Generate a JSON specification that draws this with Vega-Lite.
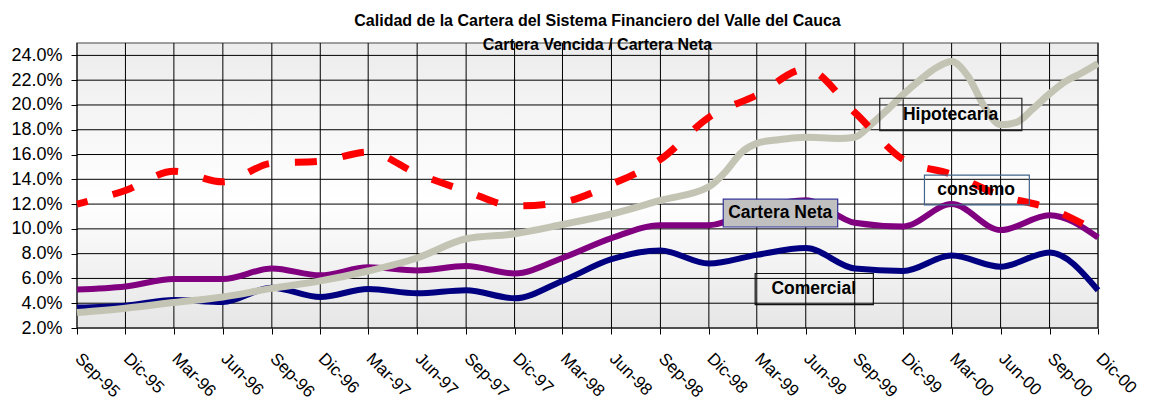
{
  "$schema": "https://vega.github.io/schema/vega-lite/v6.json",
  "width": 1021,
  "height": 285,
  "autosize": {"type": "none"},
  "padding": {"left": 77, "top": 43, "right": 58, "bottom": 73},
  "background": "#ffffff",
  "config": {
    "view": {
      "stroke": "#808080",
      "strokeWidth": 1.5,
      "fill": {"gradient": "linear", "x1": 0, "y1": 0, "x2": 0, "y2": 1,
        "stops": [{"offset": 0, "color": "#ececec"}, {"offset": 0.55, "color": "#ffffff"}, {"offset": 1, "color": "#e6e6e6"}]}
    },
    "font": "Liberation Sans",
    "axis": {
      "grid": false, "domain": false, "tickColor": "#000000", "tickSize": 6, "tickWidth": 1,
      "labelColor": "#000000", "labelFont": "Liberation Sans", "labelOverlap": false
    }
  },
  "title": {
    "text": ["Calidad de la Cartera del Sistema Financiero del Valle del Cauca", "Cartera Vencida / Cartera Neta"],
    "font": "Liberation Sans", "fontSize": 16, "fontWeight": "bold", "color": "#000000",
    "lineHeight": 24, "offset": -10, "anchor": "middle", "frame": "group", "dx": 10
  },
  "resolve": {"axis": {"x": "independent", "y": "independent"}},
  "datasets": {
    "trimestres": [
      {"fecha": "1995-09-01"}, {"fecha": "1995-12-01"}, {"fecha": "1996-03-01"}, {"fecha": "1996-06-01"},
      {"fecha": "1996-09-01"}, {"fecha": "1996-12-01"}, {"fecha": "1997-03-01"}, {"fecha": "1997-06-01"},
      {"fecha": "1997-09-01"}, {"fecha": "1997-12-01"}, {"fecha": "1998-03-01"}, {"fecha": "1998-06-01"},
      {"fecha": "1998-09-01"}, {"fecha": "1998-12-01"}, {"fecha": "1999-03-01"}, {"fecha": "1999-06-01"},
      {"fecha": "1999-09-01"}, {"fecha": "1999-12-01"}, {"fecha": "2000-03-01"}, {"fecha": "2000-06-01"},
      {"fecha": "2000-09-01"}, {"fecha": "2000-12-01"}
    ],
    "niveles": [
      {"valor": 2}, {"valor": 4}, {"valor": 6}, {"valor": 8}, {"valor": 10}, {"valor": 12},
      {"valor": 14}, {"valor": 16}, {"valor": 18}, {"valor": 20}, {"valor": 22}, {"valor": 24}
    ],
    "series": [
      {"fecha": "1995-09-01", "serie": "Comercial", "valor": 3.65},
      {"fecha": "1995-12-01", "serie": "Comercial", "valor": 3.8},
      {"fecha": "1996-03-01", "serie": "Comercial", "valor": 4.25},
      {"fecha": "1996-06-01", "serie": "Comercial", "valor": 4.1},
      {"fecha": "1996-09-01", "serie": "Comercial", "valor": 5.25},
      {"fecha": "1996-12-01", "serie": "Comercial", "valor": 4.5},
      {"fecha": "1997-03-01", "serie": "Comercial", "valor": 5.15},
      {"fecha": "1997-06-01", "serie": "Comercial", "valor": 4.8},
      {"fecha": "1997-09-01", "serie": "Comercial", "valor": 5.05},
      {"fecha": "1997-12-01", "serie": "Comercial", "valor": 4.4},
      {"fecha": "1998-03-01", "serie": "Comercial", "valor": 5.8},
      {"fecha": "1998-06-01", "serie": "Comercial", "valor": 7.55},
      {"fecha": "1998-09-01", "serie": "Comercial", "valor": 8.25},
      {"fecha": "1998-12-01", "serie": "Comercial", "valor": 7.2},
      {"fecha": "1999-03-01", "serie": "Comercial", "valor": 7.9},
      {"fecha": "1999-06-01", "serie": "Comercial", "valor": 8.45},
      {"fecha": "1999-09-01", "serie": "Comercial", "valor": 6.8},
      {"fecha": "1999-12-01", "serie": "Comercial", "valor": 6.6},
      {"fecha": "2000-03-01", "serie": "Comercial", "valor": 7.85},
      {"fecha": "2000-06-01", "serie": "Comercial", "valor": 6.95},
      {"fecha": "2000-09-01", "serie": "Comercial", "valor": 8.1},
      {"fecha": "2000-12-01", "serie": "Comercial", "valor": 5.05},

      {"fecha": "1995-09-01", "serie": "Cartera Neta", "valor": 5.1},
      {"fecha": "1995-12-01", "serie": "Cartera Neta", "valor": 5.35},
      {"fecha": "1996-03-01", "serie": "Cartera Neta", "valor": 5.95},
      {"fecha": "1996-06-01", "serie": "Cartera Neta", "valor": 5.95},
      {"fecha": "1996-09-01", "serie": "Cartera Neta", "valor": 6.8},
      {"fecha": "1996-12-01", "serie": "Cartera Neta", "valor": 6.25},
      {"fecha": "1997-03-01", "serie": "Cartera Neta", "valor": 6.9},
      {"fecha": "1997-06-01", "serie": "Cartera Neta", "valor": 6.65},
      {"fecha": "1997-09-01", "serie": "Cartera Neta", "valor": 7.0},
      {"fecha": "1997-12-01", "serie": "Cartera Neta", "valor": 6.4},
      {"fecha": "1998-03-01", "serie": "Cartera Neta", "valor": 7.65},
      {"fecha": "1998-06-01", "serie": "Cartera Neta", "valor": 9.25},
      {"fecha": "1998-09-01", "serie": "Cartera Neta", "valor": 10.3},
      {"fecha": "1998-12-01", "serie": "Cartera Neta", "valor": 10.3},
      {"fecha": "1999-03-01", "serie": "Cartera Neta", "valor": 11.6},
      {"fecha": "1999-06-01", "serie": "Cartera Neta", "valor": 12.3},
      {"fecha": "1999-09-01", "serie": "Cartera Neta", "valor": 10.5},
      {"fecha": "1999-12-01", "serie": "Cartera Neta", "valor": 10.2},
      {"fecha": "2000-03-01", "serie": "Cartera Neta", "valor": 12.0},
      {"fecha": "2000-06-01", "serie": "Cartera Neta", "valor": 9.9},
      {"fecha": "2000-09-01", "serie": "Cartera Neta", "valor": 11.1},
      {"fecha": "2000-12-01", "serie": "Cartera Neta", "valor": 9.3},

      {"fecha": "1995-09-01", "serie": "Hipotecaria", "valor": 3.25},
      {"fecha": "1995-12-01", "serie": "Hipotecaria", "valor": 3.6},
      {"fecha": "1996-03-01", "serie": "Hipotecaria", "valor": 4.05},
      {"fecha": "1996-06-01", "serie": "Hipotecaria", "valor": 4.5},
      {"fecha": "1996-09-01", "serie": "Hipotecaria", "valor": 5.2},
      {"fecha": "1996-12-01", "serie": "Hipotecaria", "valor": 5.8},
      {"fecha": "1997-03-01", "serie": "Hipotecaria", "valor": 6.6},
      {"fecha": "1997-06-01", "serie": "Hipotecaria", "valor": 7.65},
      {"fecha": "1997-09-01", "serie": "Hipotecaria", "valor": 9.2},
      {"fecha": "1997-12-01", "serie": "Hipotecaria", "valor": 9.6},
      {"fecha": "1998-03-01", "serie": "Hipotecaria", "valor": 10.35},
      {"fecha": "1998-06-01", "serie": "Hipotecaria", "valor": 11.2},
      {"fecha": "1998-09-01", "serie": "Hipotecaria", "valor": 12.3},
      {"fecha": "1998-12-01", "serie": "Hipotecaria", "valor": 13.4},
      {"fecha": "1999-01-01", "serie": "Hipotecaria", "valor": 14.6},
      {"fecha": "1999-02-01", "serie": "Hipotecaria", "valor": 16.2},
      {"fecha": "1999-03-01", "serie": "Hipotecaria", "valor": 16.9},
      {"fecha": "1999-04-01", "serie": "Hipotecaria", "valor": 17.15},
      {"fecha": "1999-05-01", "serie": "Hipotecaria", "valor": 17.3},
      {"fecha": "1999-06-01", "serie": "Hipotecaria", "valor": 17.4},
      {"fecha": "1999-07-01", "serie": "Hipotecaria", "valor": 17.35},
      {"fecha": "1999-08-01", "serie": "Hipotecaria", "valor": 17.3},
      {"fecha": "1999-09-01", "serie": "Hipotecaria", "valor": 17.4},
      {"fecha": "1999-10-01", "serie": "Hipotecaria", "valor": 18.4},
      {"fecha": "1999-11-01", "serie": "Hipotecaria", "valor": 19.6},
      {"fecha": "1999-12-01", "serie": "Hipotecaria", "valor": 20.85},
      {"fecha": "2000-01-01", "serie": "Hipotecaria", "valor": 22.0},
      {"fecha": "2000-02-01", "serie": "Hipotecaria", "valor": 23.0},
      {"fecha": "2000-03-01", "serie": "Hipotecaria", "valor": 23.5},
      {"fecha": "2000-04-01", "serie": "Hipotecaria", "valor": 22.3},
      {"fecha": "2000-05-01", "serie": "Hipotecaria", "valor": 19.9},
      {"fecha": "2000-06-01", "serie": "Hipotecaria", "valor": 18.4},
      {"fecha": "2000-07-01", "serie": "Hipotecaria", "valor": 18.6},
      {"fecha": "2000-08-01", "serie": "Hipotecaria", "valor": 19.7},
      {"fecha": "2000-09-01", "serie": "Hipotecaria", "valor": 20.9},
      {"fecha": "2000-10-01", "serie": "Hipotecaria", "valor": 21.9},
      {"fecha": "2000-11-01", "serie": "Hipotecaria", "valor": 22.6},
      {"fecha": "2000-12-01", "serie": "Hipotecaria", "valor": 23.35},

      {"fecha": "1995-09-01", "serie": "consumo", "valor": 12.0},
      {"fecha": "1995-12-01", "serie": "consumo", "valor": 13.1},
      {"fecha": "1996-03-01", "serie": "consumo", "valor": 14.65},
      {"fecha": "1996-06-01", "serie": "consumo", "valor": 13.8},
      {"fecha": "1996-09-01", "serie": "consumo", "valor": 15.3},
      {"fecha": "1996-12-01", "serie": "consumo", "valor": 15.45},
      {"fecha": "1997-03-01", "serie": "consumo", "valor": 16.2},
      {"fecha": "1997-06-01", "serie": "consumo", "valor": 14.45},
      {"fecha": "1997-09-01", "serie": "consumo", "valor": 13.05},
      {"fecha": "1997-12-01", "serie": "consumo", "valor": 11.85},
      {"fecha": "1998-03-01", "serie": "consumo", "valor": 12.15},
      {"fecha": "1998-06-01", "serie": "consumo", "valor": 13.6},
      {"fecha": "1998-09-01", "serie": "consumo", "valor": 15.6},
      {"fecha": "1998-12-01", "serie": "consumo", "valor": 19.0},
      {"fecha": "1999-03-01", "serie": "consumo", "valor": 20.8},
      {"fecha": "1999-06-01", "serie": "consumo", "valor": 22.9},
      {"fecha": "1999-09-01", "serie": "consumo", "valor": 19.4},
      {"fecha": "1999-12-01", "serie": "consumo", "valor": 15.6},
      {"fecha": "2000-03-01", "serie": "consumo", "valor": 14.4},
      {"fecha": "2000-06-01", "serie": "consumo", "valor": 12.7},
      {"fecha": "2000-09-01", "serie": "consumo", "valor": 11.65},
      {"fecha": "2000-12-01", "serie": "consumo", "valor": 9.75}
    ],
    "notas": [
      {"etiqueta": "Hipotecaria", "desde": "1999-10-18", "hasta": "2000-07-11", "bajo": 17.93, "alto": 20.54, "fechaTexto": "2000-02-28", "valorTexto": 19.22},
      {"etiqueta": "consumo", "desde": "2000-01-10", "hasta": "2000-07-25", "bajo": 11.94, "alto": 14.34, "fechaTexto": "2000-04-16", "valorTexto": 13.15},
      {"etiqueta": "Cartera Neta", "desde": "1998-12-28", "hasta": "1999-07-31", "bajo": 10.15, "alto": 12.4, "fechaTexto": "1999-04-14", "valorTexto": 11.29},
      {"etiqueta": "Comercial", "desde": "1999-02-26", "hasta": "1999-10-06", "bajo": 3.89, "alto": 6.4, "fechaTexto": "1999-06-16", "valorTexto": 5.15}
    ]
  },
  "layer": [
    {
      "data": {"name": "trimestres"},
      "mark": {"type": "rule", "color": "#000000", "strokeWidth": 1},
      "encoding": {
        "x": {"field": "fecha", "type": "temporal", "axis": null, "scale": {"type": "utc", "domain": [{"year": 1995, "month": 9, "date": 1, "utc": true}, {"year": 2000, "month": 12, "date": 1, "utc": true}]}},
        "y": {"datum": 2, "type": "quantitative", "axis": null, "scale": {"domain": [2, 25], "nice": false, "zero": false}},
        "y2": {"datum": 25}
      }
    },
    {
      "data": {"name": "niveles"},
      "mark": {"type": "rule", "color": "#000000", "strokeWidth": 1},
      "encoding": {
        "y": {"field": "valor", "type": "quantitative", "axis": null, "scale": {"domain": [2, 25], "nice": false, "zero": false}},
        "x": {"datum": {"year": 1995, "month": 9, "date": 1, "utc": true}, "type": "temporal", "axis": null, "scale": {"type": "utc", "domain": [{"year": 1995, "month": 9, "date": 1, "utc": true}, {"year": 2000, "month": 12, "date": 1, "utc": true}]}},
        "x2": {"datum": {"year": 2000, "month": 12, "date": 1, "utc": true}}
      }
    },
    {
      "data": {"name": "series"},
      "transform": [{"filter": "datum.serie === 'Comercial'"}],
      "mark": {"type": "line", "color": "#000080", "strokeWidth": 6, "interpolate": "monotone"},
      "encoding": {
        "x": {"field": "fecha", "type": "temporal",
          "scale": {"type": "utc", "domain": [{"year": 1995, "month": 9, "date": 1, "utc": true}, {"year": 2000, "month": 12, "date": 1, "utc": true}]},
          "axis": {
            "title": null, "grid": false,
            "values": [
              {"year": 1995, "month": 9, "date": 1, "utc": true}, {"year": 1995, "month": 12, "date": 1, "utc": true},
              {"year": 1996, "month": 3, "date": 1, "utc": true}, {"year": 1996, "month": 6, "date": 1, "utc": true},
              {"year": 1996, "month": 9, "date": 1, "utc": true}, {"year": 1996, "month": 12, "date": 1, "utc": true},
              {"year": 1997, "month": 3, "date": 1, "utc": true}, {"year": 1997, "month": 6, "date": 1, "utc": true},
              {"year": 1997, "month": 9, "date": 1, "utc": true}, {"year": 1997, "month": 12, "date": 1, "utc": true},
              {"year": 1998, "month": 3, "date": 1, "utc": true}, {"year": 1998, "month": 6, "date": 1, "utc": true},
              {"year": 1998, "month": 9, "date": 1, "utc": true}, {"year": 1998, "month": 12, "date": 1, "utc": true},
              {"year": 1999, "month": 3, "date": 1, "utc": true}, {"year": 1999, "month": 6, "date": 1, "utc": true},
              {"year": 1999, "month": 9, "date": 1, "utc": true}, {"year": 1999, "month": 12, "date": 1, "utc": true},
              {"year": 2000, "month": 3, "date": 1, "utc": true}, {"year": 2000, "month": 6, "date": 1, "utc": true},
              {"year": 2000, "month": 9, "date": 1, "utc": true}, {"year": 2000, "month": 12, "date": 1, "utc": true}
            ],
            "labelExpr": "replace(utcFormat(datum.value, '%b-%y'), 'Dec', 'Dic')",
            "labelAngle": 45, "labelAlign": "left", "labelBaseline": "top",
            "labelFontSize": 17, "labelPadding": 16, "labelOffset": 6,
            "labelOverlap": false, "labelFlush": false
          }
        },
        "y": {"field": "valor", "type": "quantitative",
          "scale": {"domain": [2, 25], "nice": false, "zero": false},
          "axis": {
            "title": null, "grid": false,
            "values": [2, 4, 6, 8, 10, 12, 14, 16, 18, 20, 22, 24],
            "labelExpr": "format(datum.value, '.1f') + '%'",
            "labelFontSize": 18, "labelPadding": 9, "labelOverlap": false
          }
        }
      }
    },
    {
      "data": {"name": "series"},
      "transform": [{"filter": "datum.serie === 'Cartera Neta'"}],
      "mark": {"type": "line", "color": "#800080", "strokeWidth": 6, "interpolate": "monotone"},
      "encoding": {
        "x": {"field": "fecha", "type": "temporal", "axis": null, "scale": {"type": "utc", "domain": [{"year": 1995, "month": 9, "date": 1, "utc": true}, {"year": 2000, "month": 12, "date": 1, "utc": true}]}},
        "y": {"field": "valor", "type": "quantitative", "axis": null, "scale": {"domain": [2, 25], "nice": false, "zero": false}}
      }
    },
    {
      "data": {"name": "series"},
      "transform": [{"filter": "datum.serie === 'Hipotecaria'"}],
      "mark": {"type": "line", "color": "#C4C4B4", "strokeWidth": 7, "interpolate": "monotone"},
      "encoding": {
        "x": {"field": "fecha", "type": "temporal", "axis": null, "scale": {"type": "utc", "domain": [{"year": 1995, "month": 9, "date": 1, "utc": true}, {"year": 2000, "month": 12, "date": 1, "utc": true}]}},
        "y": {"field": "valor", "type": "quantitative", "axis": null, "scale": {"domain": [2, 25], "nice": false, "zero": false}}
      }
    },
    {
      "data": {"name": "series"},
      "transform": [{"filter": "datum.serie === 'consumo'"}],
      "mark": {"type": "line", "color": "#FF0000", "strokeWidth": 7, "interpolate": "monotone", "strokeDash": [22, 26], "strokeDashOffset": 11, "strokeCap": "butt"},
      "encoding": {
        "x": {"field": "fecha", "type": "temporal", "axis": null, "scale": {"type": "utc", "domain": [{"year": 1995, "month": 9, "date": 1, "utc": true}, {"year": 2000, "month": 12, "date": 1, "utc": true}]}},
        "y": {"field": "valor", "type": "quantitative", "axis": null, "scale": {"domain": [2, 25], "nice": false, "zero": false}}
      }
    },
    {
      "data": {"name": "notas"},
      "mark": {"type": "rect", "strokeWidth": 1.2},
      "encoding": {
        "x": {"field": "desde", "type": "temporal", "axis": null, "scale": {"type": "utc", "domain": [{"year": 1995, "month": 9, "date": 1, "utc": true}, {"year": 2000, "month": 12, "date": 1, "utc": true}]}},
        "x2": {"field": "hasta"},
        "y": {"field": "bajo", "type": "quantitative", "axis": null, "scale": {"domain": [2, 25], "nice": false, "zero": false}},
        "y2": {"field": "alto"},
        "fill": {"field": "etiqueta", "type": "nominal", "legend": null,
          "scale": {"domain": ["Hipotecaria", "consumo", "Cartera Neta", "Comercial"], "range": ["transparent", "transparent", "#C0C0C0", "transparent"]}},
        "stroke": {"field": "etiqueta", "type": "nominal", "legend": null,
          "scale": {"domain": ["Hipotecaria", "consumo", "Cartera Neta", "Comercial"], "range": ["#222222", "#41648C", "#333399", "#111111"]}}
      }
    },
    {
      "data": {"name": "notas"},
      "mark": {"type": "text", "font": "Liberation Sans", "fontSize": 17.5, "fontWeight": "bold", "color": "#000000", "align": "center", "baseline": "middle"},
      "encoding": {
        "x": {"field": "fechaTexto", "type": "temporal", "axis": null, "scale": {"type": "utc", "domain": [{"year": 1995, "month": 9, "date": 1, "utc": true}, {"year": 2000, "month": 12, "date": 1, "utc": true}]}},
        "y": {"field": "valorTexto", "type": "quantitative", "axis": null, "scale": {"domain": [2, 25], "nice": false, "zero": false}},
        "text": {"field": "etiqueta"}
      }
    }
  ]
}
